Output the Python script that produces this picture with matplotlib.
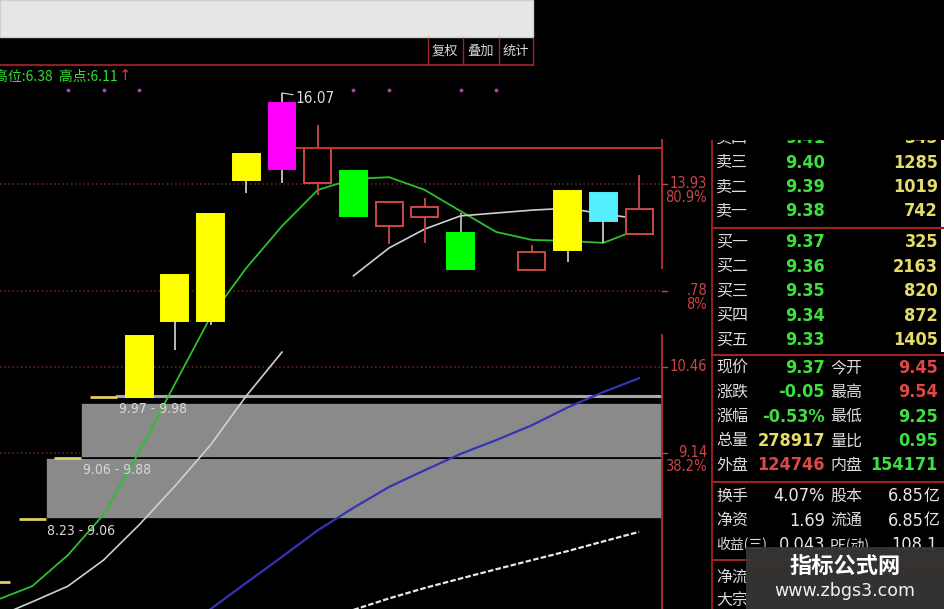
import numpy as np
import matplotlib
matplotlib.use('Agg')
import matplotlib.pyplot as plt
from matplotlib import font_manager
from matplotlib.font_manager import FontProperties
from matplotlib.patches import Rectangle
from matplotlib.lines import Line2D

W, H = 945, 609

# ---- candles (slot 14 is empty) ----
days   = [0, 1, 2, 3, 4, 5, 6, 7, 8, 9, 10, 11, 12, 13, 15, 16, 17, 18]
opens  = [7.46, 8.23, 9.06, 9.97, 9.97, 11.23, 11.23, 14.02, 14.26, 13.95, 14.22, 13.04, 13.23, 12.90, 12.17, 12.56, 13.73, 12.88]
highs  = [7.46, 8.23, 9.06, 9.97, 10.97, 12.07, 13.28, 14.61, 16.07, 15.28, 14.22, 13.54, 13.63, 13.31, 12.66, 13.78, 13.73, 14.13]
lows   = [7.46, 8.23, 9.06, 9.97, 9.97, 10.73, 11.16, 13.73, 13.95, 13.69, 13.25, 12.68, 12.70, 12.19, 12.17, 12.33, 12.70, 12.88]
closes = [7.46, 8.23, 9.06, 9.97, 10.97, 12.07, 13.28, 14.61, 15.82, 14.74, 13.25, 13.54, 13.44, 12.19, 12.52, 13.78, 13.14, 13.39]
kinds  = ['limit'] * 4 + ['yellow'] * 4 + ['magenta', 'red', 'green', 'red', 'red',
                                           'green', 'red', 'yellow', 'cyan', 'red']

# moving averages
ma_days  = list(range(19))
ma_green = [7.25, 7.41, 7.78, 8.29, 9.15, 10.18, 11.31, 12.21, 13.04, 13.80,
            14.04, 14.08, 13.80, 13.35, 12.92, 12.76, 12.74, 12.70, 12.98]
ma_white = [7.06, 7.23, 7.41, 7.72, 8.16, 8.67, 9.25, 9.99, 10.70, np.nan,
            12.06, 12.60, 12.98, 13.25, 13.31, 13.37, 13.41, 13.29, 13.19]
blue_days = list(range(5, 19))
ma_blue   = [6.86, 7.15, 7.45, 7.76, 8.09, 8.38, 8.66, 8.89, 9.12, 9.32, 9.54, 9.81, 10.05, 10.27]
long_days = list(range(10, 19))
ma_long   = [7.14, 7.27, 7.39, 7.50, 7.61, 7.72, 7.83, 7.95, 8.07]

# golden section levels
fib_price = [13.93, 11.78, 10.46, 9.14]
fib_text  = ['13.93', '.78', '10.46', '9.14']
fib_pct   = ['80.9%', '8%', '', '38.2%']

# gap zones
zone_day   = [1, 2, 3]
zone_low   = [8.23, 9.06, 9.97]
zone_high  = [9.06, 9.88, 9.98]
zone_label = ['8.23 - 9.06', '9.06 - 9.88', '9.97 - 9.98']

signal_days = [2, 3, 4, 10, 11, 13, 14]
peak_day, peak_price = 8, 16.07

# quote panel
book_names  = ['卖四', '卖三', '卖二', '卖一', '买一', '买二', '买三', '买四', '买五']
book_prices = ['9.41', '9.40', '9.39', '9.38', '9.37', '9.36', '9.35', '9.34', '9.33']
book_vols   = ['345', '1285', '1019', '742', '325', '2163', '820', '872', '1405']

quote_l_names = ['现价', '涨跌', '涨幅', '总量', '外盘']
quote_l_vals  = ['9.37', '-0.05', '-0.53%', '278917', '124746']
quote_l_cols  = ['g', 'g', 'g', 'y', 'r']
quote_r_names = ['今开', '最高', '最低', '量比', '内盘']
quote_r_vals  = ['9.45', '9.54', '9.25', '0.95', '154171']
quote_r_cols  = ['r', 'r', 'g', 'g', 'g']

fin_l_names = ['换手', '净资', '收益(三)']
fin_l_vals  = ['4.07%', '1.69', '0.043']
fin_r_names = ['股本', '流通', 'PE(动)']
fin_r_vals  = ['6.85亿', '6.85亿', '108.1']

extra_names = ['净流', '大宗']

CJK = 'Noto Sans CJK SC'


# look for a narrow sans font, the quote software uses a condensed face
def narrow_font(bold):
    prefs = ['liberation sans narrow', 'dejavu sans', 'roboto', 'open sans', 'noto sans', 'lato']
    best, best_rank = None, 99
    for f in font_manager.fontManager.ttflist:
        nm = f.name.lower()
        fn = f.fname.lower()
        st = str(f.stretch).lower()
        is_narrow = ('narrow' in nm or 'condensed' in nm or 'narrow' in fn
                     or 'condensed' in fn or st in ('condensed', 'semi-condensed',
                                                    'extra-condensed', 'ultra-condensed'))
        if not is_narrow or 'mono' in nm or 'serif' in nm or 'oblique' in fn or 'italic' in fn:
            continue
        w = f.weight if isinstance(f.weight, int) else (700 if 'bold' in str(f.weight) else 400)
        if bold != (w >= 600):
            continue
        rank = next((i for i, p in enumerate(prefs) if nm.startswith(p)), 50)
        if rank < best_rank:
            best, best_rank = f.fname, rank
    return best


NF = narrow_font(False)
NFB = narrow_font(True) or NF
SCALE = 1.0 if NF else 0.8


def nprop(size, bold=False):
    path = NFB if bold else NF
    if path:
        return FontProperties(fname=path, size=size)
    return FontProperties(family='DejaVu Sans', size=size * SCALE,
                          weight='bold' if bold else 'normal')


GREEN = '#3ee03e'
RED = '#e04848'
YEL = '#e6dc6a'
LBL = '#dcdcdc'
cmap = {'g': GREEN, 'r': RED, 'y': YEL, 'w': '#e8e8e8'}


def fx(px):
    return px / W


def fy(py):
    return 1 - py / H


fig = plt.figure(figsize=(W / 100, H / 100), dpi=100, facecolor='black')

# ---- top bar ----
fig.add_artist(Rectangle((0, fy(37)), fx(533), 37 / H, transform=fig.transFigure,
                         fc='#e6e6e6', ec='#d0d0d0', lw=1))
fig.add_artist(Line2D([0, fx(533)], [fy(65), fy(65)], transform=fig.transFigure,
                      color='#a02222', lw=1.3))
for xs in [428, 463, 499, 533]:
    fig.add_artist(Line2D([fx(xs), fx(xs)], [fy(38), fy(65)], transform=fig.transFigure,
                          color='#a02222', lw=1))
for xc, s in zip([445, 481, 516], ['复权', '叠加', '统计']):
    fig.text(fx(xc), fy(51), s, color='#d8d8d8', fontsize=9.5, family=CJK,
             ha='center', va='center')

fig.text(fx(-6), fy(77), '高位:6.38  高点:6.11', color='#33dd33', fontsize=10,
         family=CJK, va='center', ha='left')
fig.text(fx(119), fy(76), '↑', color='#dd3333', fontsize=11, family='DejaVu Sans',
         va='center', ha='left')

# ---- main chart ----
ax = fig.add_axes([0, 0, fx(662), (H - 65) / H])
ax.set_facecolor('black')
ax.set_yscale('log')
ax.set_ylim(7.15, 16.79)
ax.set_xlim(0.1008, 18.644)
ax.set_axis_off()
x_right = 18.644

for p in fib_price:
    ax.axhline(p, color='#5e2418', lw=1.2, ls=(0, (1, 1.5)), zorder=0.5)

half = 0.378
for d, lo, hi in zip(zone_day, zone_low, zone_high):
    thin = hi / lo < 1.01
    fc = '#a8a8a8' if thin else '#8a8a8a'
    ax.add_patch(Rectangle((d + half, lo), x_right - d - half, hi - lo,
                           fc=fc, ec=fc if thin else 'black', lw=1.5 if thin else 1.2,
                           zorder=1))
for d, lo, s in zip(zone_day, zone_low, zone_label):
    ax.annotate(s, (d + half, lo), xytext=(1.2, -3.5), textcoords='offset points',
                ha='left', va='top', color='#d8d8d8', fontproperties=nprop(10),
                zorder=6)

ax.plot(ma_days, ma_green, color='#2cc02c', lw=1.3, zorder=3)
ax.plot(ma_days, ma_white, color='#d0d0d0', lw=1.2, zorder=3)
ax.plot(blue_days, ma_blue, color='#3434b4', lw=1.6, zorder=3)
ax.plot(long_days, ma_long, color='#e8e8e8', lw=1.6, ls=(0, (2.5, 1)), zorder=3)

styles = {
    'yellow': ('#ffff00', '#ffff00', '#c8c8c8'),
    'magenta': ('#ff00ff', '#ff00ff', '#c8c8c8'),
    'green': ('#00ff00', '#00ff00', '#b8b8b8'),
    'cyan': ('#55eeff', '#55eeff', '#c8c8c8'),
    'red': ('black', '#cc4848', '#cc4848'),
}
for d, o, h, l, c, k in zip(days, opens, highs, lows, closes, kinds):
    if k == 'limit':
        ax.hlines(c, d - half, d + half, color='#e0d060', lw=2, zorder=4)
        continue
    face, edge, wick = styles[k]
    top, bot = max(o, c), min(o, c)
    ax.vlines(d, l, h, color=wick, lw=1.3, zorder=3.5)
    ax.bar(d, top - bot, bottom=bot, width=2 * half, color=face, edgecolor=edge,
           lw=1.4, zorder=4)

# resistance line from the candle after the peak
ax.hlines(closes[days.index(9)], peak_day + half, x_right, color='#c83030', lw=1.5, zorder=4)

ax.annotate(f'{peak_price:.2f}', (peak_day, peak_price), xytext=(10, -4),
            textcoords='offset points', ha='left', va='center', color='#dcdcdc',
            fontproperties=nprop(11), zorder=6,
            arrowprops=dict(arrowstyle='-', color='#dcdcdc', lw=0.8, shrinkA=0, shrinkB=0))

ax.scatter(signal_days, [0.954] * len(signal_days), transform=ax.get_xaxis_transform(),
           s=3, color='#b040b0', zorder=5)

ytr = ax.get_yaxis_transform()
for p, t, pc in zip(fib_price, fib_text, fib_pct):
    ax.annotate(t, (707 / 662, p), xycoords=ytr, ha='right', va='center',
                color='#cc4444', fontproperties=nprop(10.5), annotation_clip=False)
    if pc:
        ax.annotate(pc, (707 / 662, p), xycoords=ytr, xytext=(0, -10),
                    textcoords='offset points', ha='right', va='center',
                    color='#cc4444', fontproperties=nprop(10.5), annotation_clip=False)
    ax.plot([1.0, 667 / 662], [p, p], transform=ytr, color='#cc4444', lw=1, clip_on=False)

# ---- right quote panel (pixel layout) ----
ax2 = fig.add_axes([fx(662), 0, 1 - fx(662), (H - 140) / H])
ax2.set_xlim(662, 945)
ax2.set_ylim(609, 140)
ax2.set_axis_off()

ax2.plot([662, 662], [140, 268], color='#b83030', lw=1.3, clip_on=False)
ax2.plot([662, 662], [335, 609], color='#b83030', lw=1.3, clip_on=False)
ax2.plot([712, 712], [140, 609], color='#a02222', lw=1.3)
for ys in [228, 355, 482, 560]:
    ax2.plot([712, 945], [ys, ys], color='#a02222', lw=1.5)
ax2.add_patch(Rectangle((941, 140), 4, 212, fc='white', ec='none'))


def label(x, y, s):
    size = 10 if '(' in s else 11.5
    ax2.text(x, y, s, color=LBL, fontsize=size, family=CJK, ha='left', va='center',
             clip_on=True)


def value(x, y, s, col, bold):
    unit = ''
    if s.endswith('亿'):
        s, unit = s[:-1], '亿'
    if unit:
        ax2.text(x + 2, y, unit, color=cmap[col], fontsize=11.5, family=CJK, ha='right',
                 va='center', clip_on=True)
        x -= 14
    ax2.text(x, y, s, color=cmap[col], fontproperties=nprop(13, bold), ha='right',
             va='center', clip_on=True)


def row(y, name, val, vcol, name2=None, val2=None, vcol2=None, bold=True):
    label(716, y, name)
    value(825, y, val, vcol, bold)
    if name2 is not None:
        label(830, y, name2)
    if val2 is not None:
        value(938, y, val2, vcol2, bold)


for k, (n, p, v) in enumerate(zip(book_names, book_prices, book_vols)):
    y = 211 - 24.2 * (3 - k) if k < 4 else 242 + 24.5 * (k - 4)
    row(y, n, p, 'g', None, v, 'y')

for k in range(5):
    row(368 + 24.3 * k, quote_l_names[k], quote_l_vals[k], quote_l_cols[k],
        quote_r_names[k], quote_r_vals[k], quote_r_cols[k])

for k in range(3):
    row(496 + 24.5 * k, fin_l_names[k], fin_l_vals[k], 'w',
        fin_r_names[k], fin_r_vals[k], 'w', bold=False)

for k, n in enumerate(extra_names):
    label(716, 577 + 24 * k, n)

# watermark
ax2.add_patch(Rectangle((746, 547), 199, 62, fc='#383434', ec='none', alpha=0.95, zorder=5))
ax2.text(845, 566, '指标公式网', color='white', fontsize=16, fontweight='bold',
         family=CJK, ha='center', va='center', zorder=6)
ax2.text(845, 591, 'www.zbgs3.com', color='#f0f0f0', fontsize=12.5,
         family='DejaVu Sans', ha='center', va='center', zorder=6)

fig.savefig('out.png', dpi=100, facecolor='black')
